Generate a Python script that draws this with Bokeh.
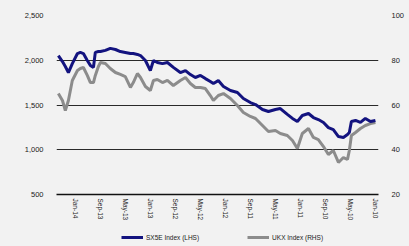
import pandas as pd
from bokeh.plotting import figure
from bokeh.layouts import column
from bokeh.models import (Range1d, LinearAxis, FixedTicker, NumeralTickFormatter,
                          DatetimeTickFormatter, Legend, LegendItem, ColumnDataSource)
from bokeh.embed import file_html
from bokeh.resources import INLINE

# ---- data ----
dates = ["2010-01-01", "2010-01-25", "2010-02-19", "2010-03-15", "2010-04-08", "2010-04-28",
         "2010-05-08", "2010-05-17", "2010-06-06", "2010-06-30", "2010-07-25", "2010-08-18",
         "2010-09-11", "2010-10-06", "2010-10-30", "2010-11-23", "2010-12-23", "2011-01-16",
         "2011-02-09", "2011-03-06", "2011-04-09", "2011-05-03", "2011-06-06", "2011-07-05",
         "2011-08-08", "2011-09-02", "2011-10-06", "2011-11-04", "2011-12-08", "2012-01-11",
         "2012-02-05", "2012-02-29", "2012-03-15", "2012-04-08", "2012-05-02", "2012-05-27",
         "2012-06-20", "2012-07-14", "2012-08-08", "2012-09-11", "2012-10-10", "2012-11-03",
         "2012-11-28", "2012-12-17", "2013-01-01", "2013-01-25", "2013-02-18", "2013-03-05",
         "2013-03-25", "2013-04-08", "2013-05-03", "2013-05-27", "2013-06-20", "2013-07-15",
         "2013-08-08", "2013-09-01", "2013-09-11", "2013-09-26", "2013-10-05", "2013-10-20",
         "2013-11-04", "2013-11-23", "2013-12-08", "2013-12-22", "2014-01-16", "2014-02-04",
         "2014-02-19", "2014-03-05", "2014-03-25"]

lhs_series = [53.1, 52.6, 54.0, 52.2, 53.1, 52.6, 47.7, 46.8, 45.5, 45.9, 49.0, 49.9,
              52.2, 53.5, 54.4, 56.2, 55.3, 52.6, 54.0, 55.8, 58.4, 58.0, 57.1, 58.0,
              60.2, 61.1, 62.9, 65.6, 66.5, 68.3, 70.9, 69.6, 70.5, 71.8, 73.2, 72.3,
              73.6, 75.4, 74.5, 76.8, 79.0, 78.5, 79.0, 79.9, 75.4, 79.9, 82.1, 82.6,
              83.0, 83.0, 83.5, 83.9, 84.8, 85.3, 84.4, 83.9, 83.9, 83.5, 76.8, 77.7,
              79.9, 83.0, 83.5, 83.0, 78.5, 74.5, 77.2, 79.4, 82.1]

rhs_series = [1305, 1293, 1271, 1237, 1193, 1159, 992, 891, 913, 858, 992, 947,
              1036, 1114, 1137, 1237, 1182, 1014, 1103, 1159, 1182, 1215, 1204, 1271,
              1349, 1372, 1416, 1494, 1573, 1628, 1606, 1550, 1606, 1684, 1696, 1696,
              1740, 1807, 1774, 1718, 1774, 1751, 1785, 1774, 1662, 1707, 1807, 1852,
              1751, 1696, 1818, 1841, 1863, 1908, 1964, 1975, 1930, 1830, 1751, 1751,
              1830, 1919, 1908, 1886, 1774, 1550, 1439, 1550, 1628]

lhs_name = "SX5E Index (LHS)"
rhs_name = "UKX Index (RHS)"

tick_dates = ["2010-01-01", "2010-05-01", "2010-09-01", "2011-01-01", "2011-05-01",
              "2011-09-01", "2012-01-01", "2012-05-01", "2012-09-01", "2013-01-01",
              "2013-05-01", "2013-09-01", "2014-01-01"]
big_ticks = [500, 1000, 1500, 2000, 2500]
small_ticks = [20, 40, 60, 80, 100]
x_view = ["2014-04-03", "2009-12-17"]   # view is shown newest-to-oldest, as in the picture

# ---- style ----
BG = "#f2f2f2"
FONT = "Liberation Sans"
TXT = "#1a1a1a"
NAVY = "#13137f"
GRAY = "#8c8c8c"

ms = lambda s: pd.Timestamp(s).value / 1e6
src = ColumnDataSource(dict(d=pd.to_datetime(dates), a=lhs_series, b=rhs_series))

p = figure(width=409, height=224, x_axis_type="datetime", output_backend="svg",
           toolbar_location=None,
           x_range=Range1d(ms(x_view[0]), ms(x_view[1])),
           y_range=Range1d(big_ticks[0], big_ticks[-1]),
           min_border_left=56, min_border_right=31, min_border_top=15, min_border_bottom=30,
           background_fill_color=BG, border_fill_color=BG)
p.outline_line_color = None
p.extra_y_ranges = {"small": Range1d(small_ticks[0], small_ticks[-1])}

p.line("d", "b", source=src, color=GRAY, line_width=3)
p.line("d", "a", source=src, color=NAVY, line_width=3, y_range_name="small")

# axes
xa = p.xaxis[0]
xa.ticker = FixedTicker(ticks=[ms(t) for t in tick_dates])
fmt = "%b-%y"
xa.formatter = DatetimeTickFormatter(years=fmt, months=fmt, days=fmt, hours=fmt,
                                     minutes=fmt, seconds=fmt, milliseconds=fmt,
                                     microseconds=fmt, hourmin=fmt, minsec=fmt)
xa.major_label_orientation = "vertical"
xa.major_label_text_font = FONT
xa.major_label_text_font_size = "6.5px"
xa.major_label_text_color = TXT
xa.major_label_standoff = 4
xa.major_tick_out = 0
xa.major_tick_in = 0
xa.major_tick_line_color = None
xa.minor_tick_line_color = None
xa.axis_line_color = "#111111"
xa.axis_line_width = 1.5

ya = p.yaxis[0]
ya.ticker = FixedTicker(ticks=big_ticks)
ya.formatter = NumeralTickFormatter(format="0,0")
ra = LinearAxis(y_range_name="small", ticker=FixedTicker(ticks=small_ticks))
p.add_layout(ra, "right")
for ax in (ya, ra):
    ax.axis_line_color = None
    ax.major_tick_line_color = None
    ax.minor_tick_line_color = None
    ax.major_label_text_font = FONT
    ax.major_label_text_font_size = "7.5px"
    ax.major_label_text_color = TXT
    ax.major_label_standoff = 7

p.xgrid.grid_line_color = None
p.ygrid.grid_line_color = "#2a2a2a"
p.ygrid.grid_line_width = 1

# ---- legend strip below the chart (its own view shows no data, only the key) ----
lg = figure(width=409, height=22, output_backend="svg", toolbar_location=None,
            x_axis_type=None, y_axis_type=None,
            x_range=Range1d(0, 1), y_range=Range1d(0, 1),
            min_border_left=0, min_border_right=0, min_border_top=0, min_border_bottom=0,
            background_fill_color=BG, border_fill_color=BG)
lg.outline_line_color = None
lg.xgrid.grid_line_color = None
lg.ygrid.grid_line_color = None
k1 = lg.line("d", "a", source=src, color=NAVY, line_width=3)
k2 = lg.line("d", "b", source=src, color=GRAY, line_width=3)
leg = Legend(items=[LegendItem(label=lhs_name, renderers=[k1]),
                    LegendItem(label=rhs_name, renderers=[k2])],
             orientation="horizontal", location=(65, 5),
             background_fill_alpha=0, border_line_color=None,
             label_text_font=FONT, label_text_font_size="6.5px", label_text_color=TXT,
             glyph_width=22, glyph_height=8, label_height=8, label_standoff=3,
             spacing=48, padding=0, margin=0)
lg.add_layout(leg, "center")

page = column(p, lg, spacing=0)
html = file_html(page, INLINE)
html = html.replace("<head>", "<head><style>html,body{background:#f2f2f2;overflow:hidden;}</style>", 1)
open("out.html", "w").write(html)
